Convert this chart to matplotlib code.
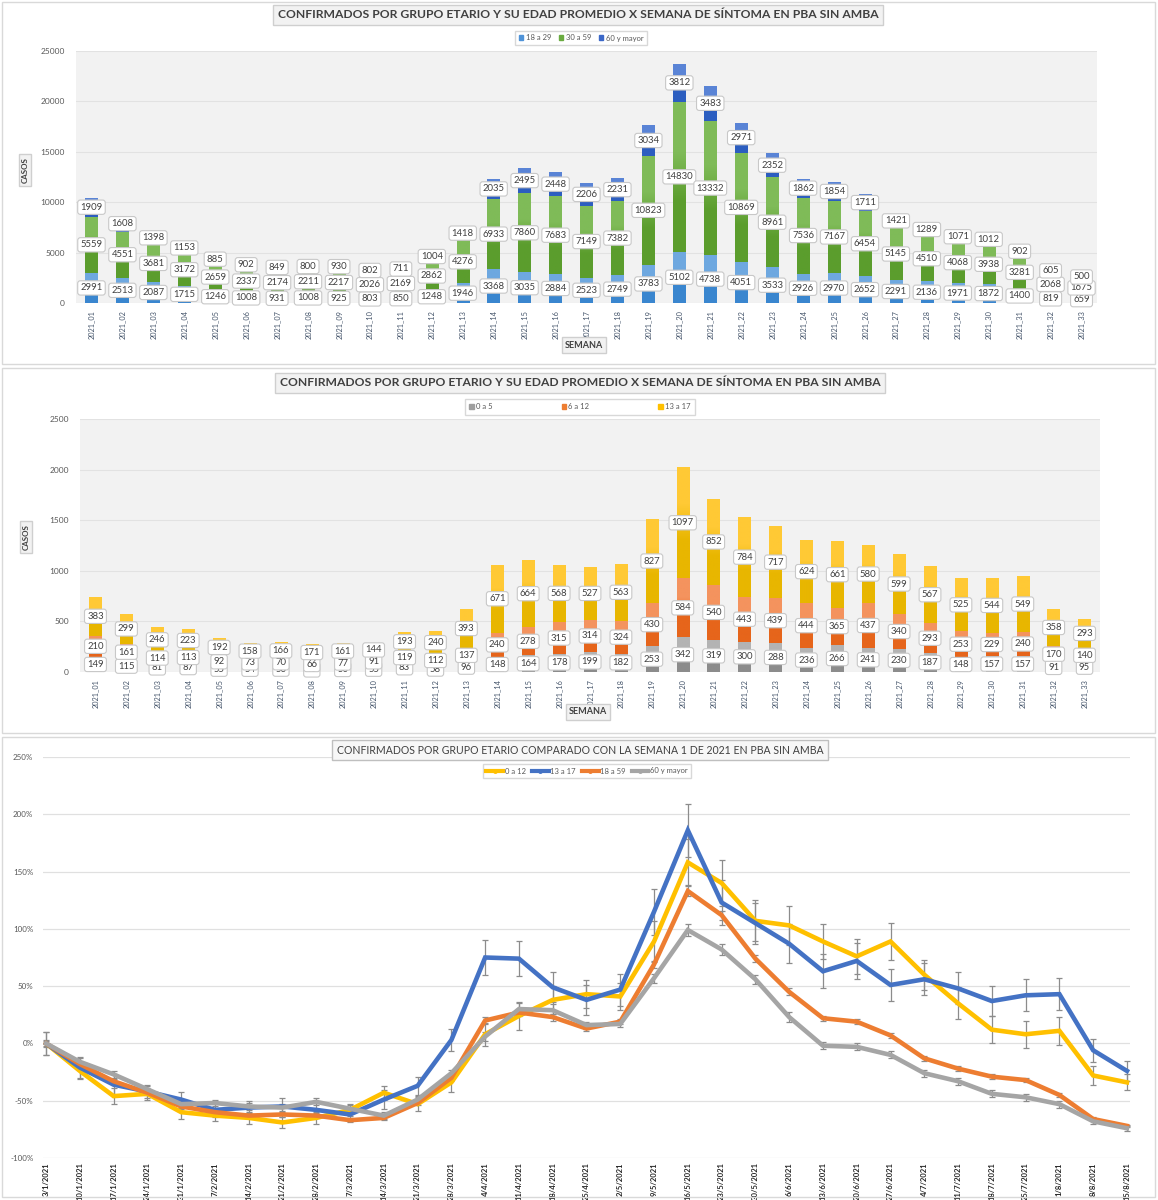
import numpy as np
import matplotlib
matplotlib.use('Agg')
import matplotlib.pyplot as plt
from matplotlib.patches import Rectangle, Patch
from matplotlib.lines import Line2D
from matplotlib.colors import LinearSegmentedColormap

plt.rcParams['font.family'] = ['Lato', 'DejaVu Sans']

# ---- data ----
semanas = ['2021_01', '2021_02', '2021_03', '2021_04', '2021_05', '2021_06', '2021_07',
           '2021_08', '2021_09', '2021_10', '2021_11', '2021_12', '2021_13', '2021_14',
           '2021_15', '2021_16', '2021_17', '2021_18', '2021_19', '2021_20', '2021_21',
           '2021_22', '2021_23', '2021_24', '2021_25', '2021_26', '2021_27', '2021_28',
           '2021_29', '2021_30', '2021_31', '2021_32', '2021_33']

a18_29 = [2991, 2513, 2087, 1715, 1246, 1008, 931, 1008, 925, 803, 850, 1248, 1946, 3368,
          3035, 2884, 2523, 2749, 3783, 5102, 4738, 4051, 3533, 2926, 2970, 2652, 2291,
          2136, 1971, 1872, 1400, 819, 659]
a30_59 = [5559, 4551, 3681, 3172, 2659, 2337, 2174, 2211, 2217, 2026, 2169, 2862, 4276, 6933,
          7860, 7683, 7149, 7382, 10823, 14830, 13332, 10869, 8961, 7536, 7167, 6454, 5145,
          4510, 4068, 3938, 3281, 2068, 1675]
a60_mas = [1909, 1608, 1398, 1153, 885, 902, 849, 800, 930, 802, 711, 1004, 1418, 2035,
           2495, 2448, 2206, 2231, 3034, 3812, 3483, 2971, 2352, 1862, 1854, 1711, 1421,
           1289, 1071, 1012, 902, 605, 500]

a0_5 = [149, 115, 81, 87, 55, 54, 56, 41, 50, 55, 83, 58, 96, 148, 164, 178, 199, 182, 253,
        342, 319, 300, 288, 236, 266, 241, 230, 187, 148, 157, 157, 91, 95]
a6_12 = [210, 161, 114, 113, 92, 73, 70, 66, 77, 91, 119, 112, 137, 240, 278, 315, 314, 324,
         430, 584, 540, 443, 439, 444, 365, 437, 340, 293, 253, 229, 240, 170, 140]
a13_17 = [383, 299, 246, 223, 192, 158, 166, 171, 161, 144, 193, 240, 393, 671, 664, 568, 527,
          563, 827, 1097, 852, 784, 717, 624, 661, 580, 599, 567, 525, 544, 549, 358, 293]

fechas = ['3/1/2021', '10/1/2021', '17/1/2021', '24/1/2021', '31/1/2021', '7/2/2021',
          '14/2/2021', '21/2/2021', '28/2/2021', '7/3/2021', '14/3/2021', '21/3/2021',
          '28/3/2021', '4/4/2021', '11/4/2021', '18/4/2021', '25/4/2021', '2/5/2021',
          '9/5/2021', '16/5/2021', '23/5/2021', '30/5/2021', '6/6/2021', '13/6/2021',
          '20/6/2021', '27/6/2021', '4/7/2021', '11/7/2021', '18/7/2021', '25/7/2021',
          '1/8/2021', '8/8/2021', '15/8/2021']

# % change vs week 1
p0_12 = [0, -24, -46, -44, -60, -63, -65, -69, -65, -58, -43, -53, -34, 8, 24, 38, 43, 41,
         89, 158, 140, 107, 103, 89, 76, 89, 60, 35, 12, 8, 11, -28, -34]
p13_17 = [0, -21, -36, -42, -49, -58, -56, -55, -58, -62, -49, -37, 3, 75, 74, 49, 38, 47,
          115, 186, 123, 105, 87, 63, 72, 51, 56, 48, 37, 42, 43, -6, -24]
p18_59 = [0, -18, -33, -43, -55, -60, -63, -62, -63, -67, -65, -52, -30, 20, 27, 23, 13, 19,
          69, 133, 112, 74, 45, 22, 19, 7, -13, -22, -29, -32, -45, -66, -72]
p60_mas = [0, -16, -27, -40, -53, -52, -55, -56, -51, -57, -63, -49, -26, 6, 30, 29, 16, 17,
           57, 99, 82, 56, 23, -2, -3, -10, -26, -33, -44, -47, -53, -68, -74]

e0_12 = [10, 7, 7, 5, 6, 5, 5, 5, 5, 5, 6, 6, 8, 10, 12, 12, 12, 12, 18, 20, 20, 18, 17, 15,
         15, 16, 13, 14, 12, 12, 12, 8, 7]
e13_17 = [10, 9, 9, 6, 7, 6, 6, 7, 6, 6, 8, 8, 10, 15, 15, 13, 13, 14, 20, 23, 20, 18, 17,
          15, 16, 14, 14, 14, 13, 14, 14, 10, 9]
e18_59 = [2, 2, 2, 2, 2, 2, 2, 2, 2, 2, 2, 2, 3, 3, 3, 3, 2, 2, 3, 4, 4, 3, 3, 2, 2, 2, 2, 2,
          2, 2, 2, 2, 1]
e60_mas = [3, 3, 3, 3, 3, 3, 3, 3, 3, 3, 3, 3, 3, 4, 5, 5, 3, 3, 4, 5, 5, 4, 4, 3, 3, 3, 3, 3,
           3, 3, 3, 2, 2]

W, H = 1158, 1200
fig = plt.figure(figsize=(W / 100, H / 100), dpi=100)


def fx(x):
    return x / W


def fy(y):
    return 1 - y / H


def panel_box(y0, y1):
    fig.add_artist(Rectangle((fx(2), fy(y1)), fx(1153), (y1 - y0) / H,
                             transform=fig.transFigure, fill=False, ec='#d9d9d9', lw=1))


def grad_bar(ax, x, bottom, height, c_top, c_bot, width=0.4):
    rect = ax.bar(x, height, width, bottom=bottom, color=c_bot, lw=0, zorder=2)[0]
    cmap = LinearSegmentedColormap.from_list('g', [c_bot, c_bot, c_top, c_top])
    grad = np.linspace(0, 1, 64).reshape(-1, 1)
    im = ax.imshow(grad, extent=[x - width / 2, x + width / 2, bottom, bottom + height],
                   origin='lower', cmap=cmap, aspect='auto', zorder=2)
    im.set_clip_path(rect)


def label(ax, x, y, v):
    ax.text(x, y, str(v), ha='center', va='center', fontsize=6.8, color='#404040', zorder=5,
            bbox=dict(boxstyle='round,pad=0.28', fc='white', ec='#c8c8c8', lw=0.8))


def stacked(ax, series, colors, ymax, step):
    x = np.arange(len(semanas))
    base = np.zeros(len(semanas))
    for vals, (ct, cb) in zip(series, colors):
        for i, v in enumerate(vals):
            grad_bar(ax, x[i], base[i], v, ct, cb)
        base = base + np.array(vals)
    base = np.zeros(len(semanas))
    for vals in series:
        for i, v in enumerate(vals):
            label(ax, x[i], base[i] + v / 2, v)
        base = base + np.array(vals)
    ax.set_xlim(-0.5, len(semanas) - 0.5)
    ax.set_ylim(0, ymax)
    ax.set_yticks(np.arange(0, ymax + 1, step))
    ax.set_facecolor('#f2f2f2')
    ax.grid(axis='y', color='#e2e2e2', lw=0.8)
    ax.set_axisbelow(True)
    for s in ax.spines.values():
        s.set_visible(False)
    ax.set_xticks(x)
    ax.set_xticklabels(semanas, rotation=90, fontsize=5.3, color='#44546a')
    ax.tick_params(axis='y', labelsize=6, colors='#595959', length=0, pad=8)
    ax.tick_params(axis='x', length=0, pad=5)


def box_text(x, y, s, size, rot=0, bold=True):
    fig.text(fx(x), fy(y), s, ha='center', va='center', fontsize=size, rotation=rot,
             fontweight='bold' if bold else 'normal', color='#404040',
             bbox=dict(boxstyle='square,pad=0.35', fc='#f2f2f2', ec='#cfcfcf', lw=1))


titulo = 'CONFIRMADOS POR GRUPO ETARIO Y SU EDAD PROMEDIO X SEMANA DE SÍNTOMA EN PBA SIN AMBA'

# ---- panel 1 ----
panel_box(2, 364)
ax1 = fig.add_axes([fx(76), fy(303), fx(1021), 252 / H])
stacked(ax1, [a18_29, a30_59, a60_mas],
        [('#6ea8e0', '#3a86cf'), ('#7fbb58', '#5b9d2d'), ('#5a84d6', '#2c5ec0')], 25000, 5000)
box_text(578, 15, titulo, 8.7)
box_text(25, 170, 'CASOS', 5.8, rot=90)
box_text(584, 345, 'SEMANA', 6.5)
h1 = [Patch(color='#4f93d8'), Patch(color='#6aab40'), Patch(color='#3b68c8')]
fig.legend(h1, ['18 a 29', '30 a 59', '60 y mayor'], loc='center',
           bbox_to_anchor=(fx(581), fy(38)), ncol=3, fontsize=5.5, fancybox=False,
           edgecolor='#cfcfcf', handlelength=0.6, handleheight=0.6, columnspacing=1.0,
           handletextpad=0.3, borderpad=0.45, labelcolor='#595959')

# ---- panel 2 ----
panel_box(368, 733)
ax2 = fig.add_axes([fx(80), fy(672), fx(1020), 253 / H])
stacked(ax2, [a0_5, a6_12, a13_17],
        [('#b3b3b3', '#8c8c8c'), ('#f4935e', '#e6651b'), ('#ffc935', '#e8b600')], 2500, 500)
box_text(580, 383, titulo, 8.7)
box_text(26, 537, 'CASOS', 5.8, rot=90)
box_text(588, 712, 'SEMANA', 6.5)
h2 = [Patch(color='#9e9e9e'), Patch(color='#ed7d31'), Patch(color='#ffc000')]
fig.legend(h2, ['0 a 5', '6 a 12', '13 a 17'], loc='center',
           bbox_to_anchor=(fx(580), fy(407)), ncol=3, fontsize=5.5, fancybox=False,
           edgecolor='#cfcfcf', handlelength=0.6, handleheight=0.6, columnspacing=9.0,
           handletextpad=0.3, borderpad=0.55, labelcolor='#595959')

# ---- panel 3 ----
panel_box(737, 1197)
ax3 = fig.add_axes([fx(43), fy(1158), fx(1087), 401 / H])
xs = np.arange(len(fechas))
lineas = [(p0_12, e0_12, '#ffc000', '0 a 12'), (p13_17, e13_17, '#4472c4', '13 a 17'),
          (p18_59, e18_59, '#ed7d31', '18 a 59'), (p60_mas, e60_mas, '#a5a5a5', '60 y mayor')]
for vals, err, col, name in lineas:
    ax3.errorbar(xs, vals, yerr=err, color=col, lw=3.3, ecolor='#8c8c8c', elinewidth=0.9,
                 capsize=2, capthick=0.9, solid_joinstyle='miter', label=name)
ax3.set_xlim(-0.09, len(fechas) - 1 + 0.09)
ax3.set_ylim(-100, 250)
ax3.set_yticks(np.arange(-100, 251, 50))
ax3.set_yticklabels([f'{v}%' for v in range(-100, 251, 50)])
ax3.grid(axis='y', color='#e0e0e0', lw=0.9)
ax3.set_axisbelow(True)
for s in ax3.spines.values():
    s.set_visible(False)
ax3.set_xticks(xs)
ax3.set_xticklabels(fechas, rotation=90, fontsize=5.5, fontweight='bold', color='#262626')
ax3.tick_params(axis='y', labelsize=5.8, colors='#595959', length=0, pad=7)
ax3.tick_params(axis='x', length=0, pad=3)
fig.text(fx(580), fy(750), 'CONFIRMADOS POR GRUPO ETARIO COMPARADO CON LA SEMANA 1 DE 2021 EN PBA SIN AMBA',
         ha='center', va='center', fontsize=7.6, color='#404040',
         bbox=dict(boxstyle='square,pad=0.4', fc='#f7f7f7', ec='#bfbfbf', lw=1))
h3 = [Line2D([], [], color=c, lw=3, marker='o', ms=2.5) for _, _, c, _ in lineas]
fig.legend(h3, [n for _, _, _, n in lineas], loc='center', bbox_to_anchor=(fx(587), fy(771)),
           ncol=4, fontsize=5.5, fancybox=False, edgecolor='#cfcfcf', handlelength=2.2,
           columnspacing=0.8, handletextpad=0.2, borderpad=0.4, labelcolor='#595959')

fig.savefig('out.png', dpi=100, facecolor='white')
